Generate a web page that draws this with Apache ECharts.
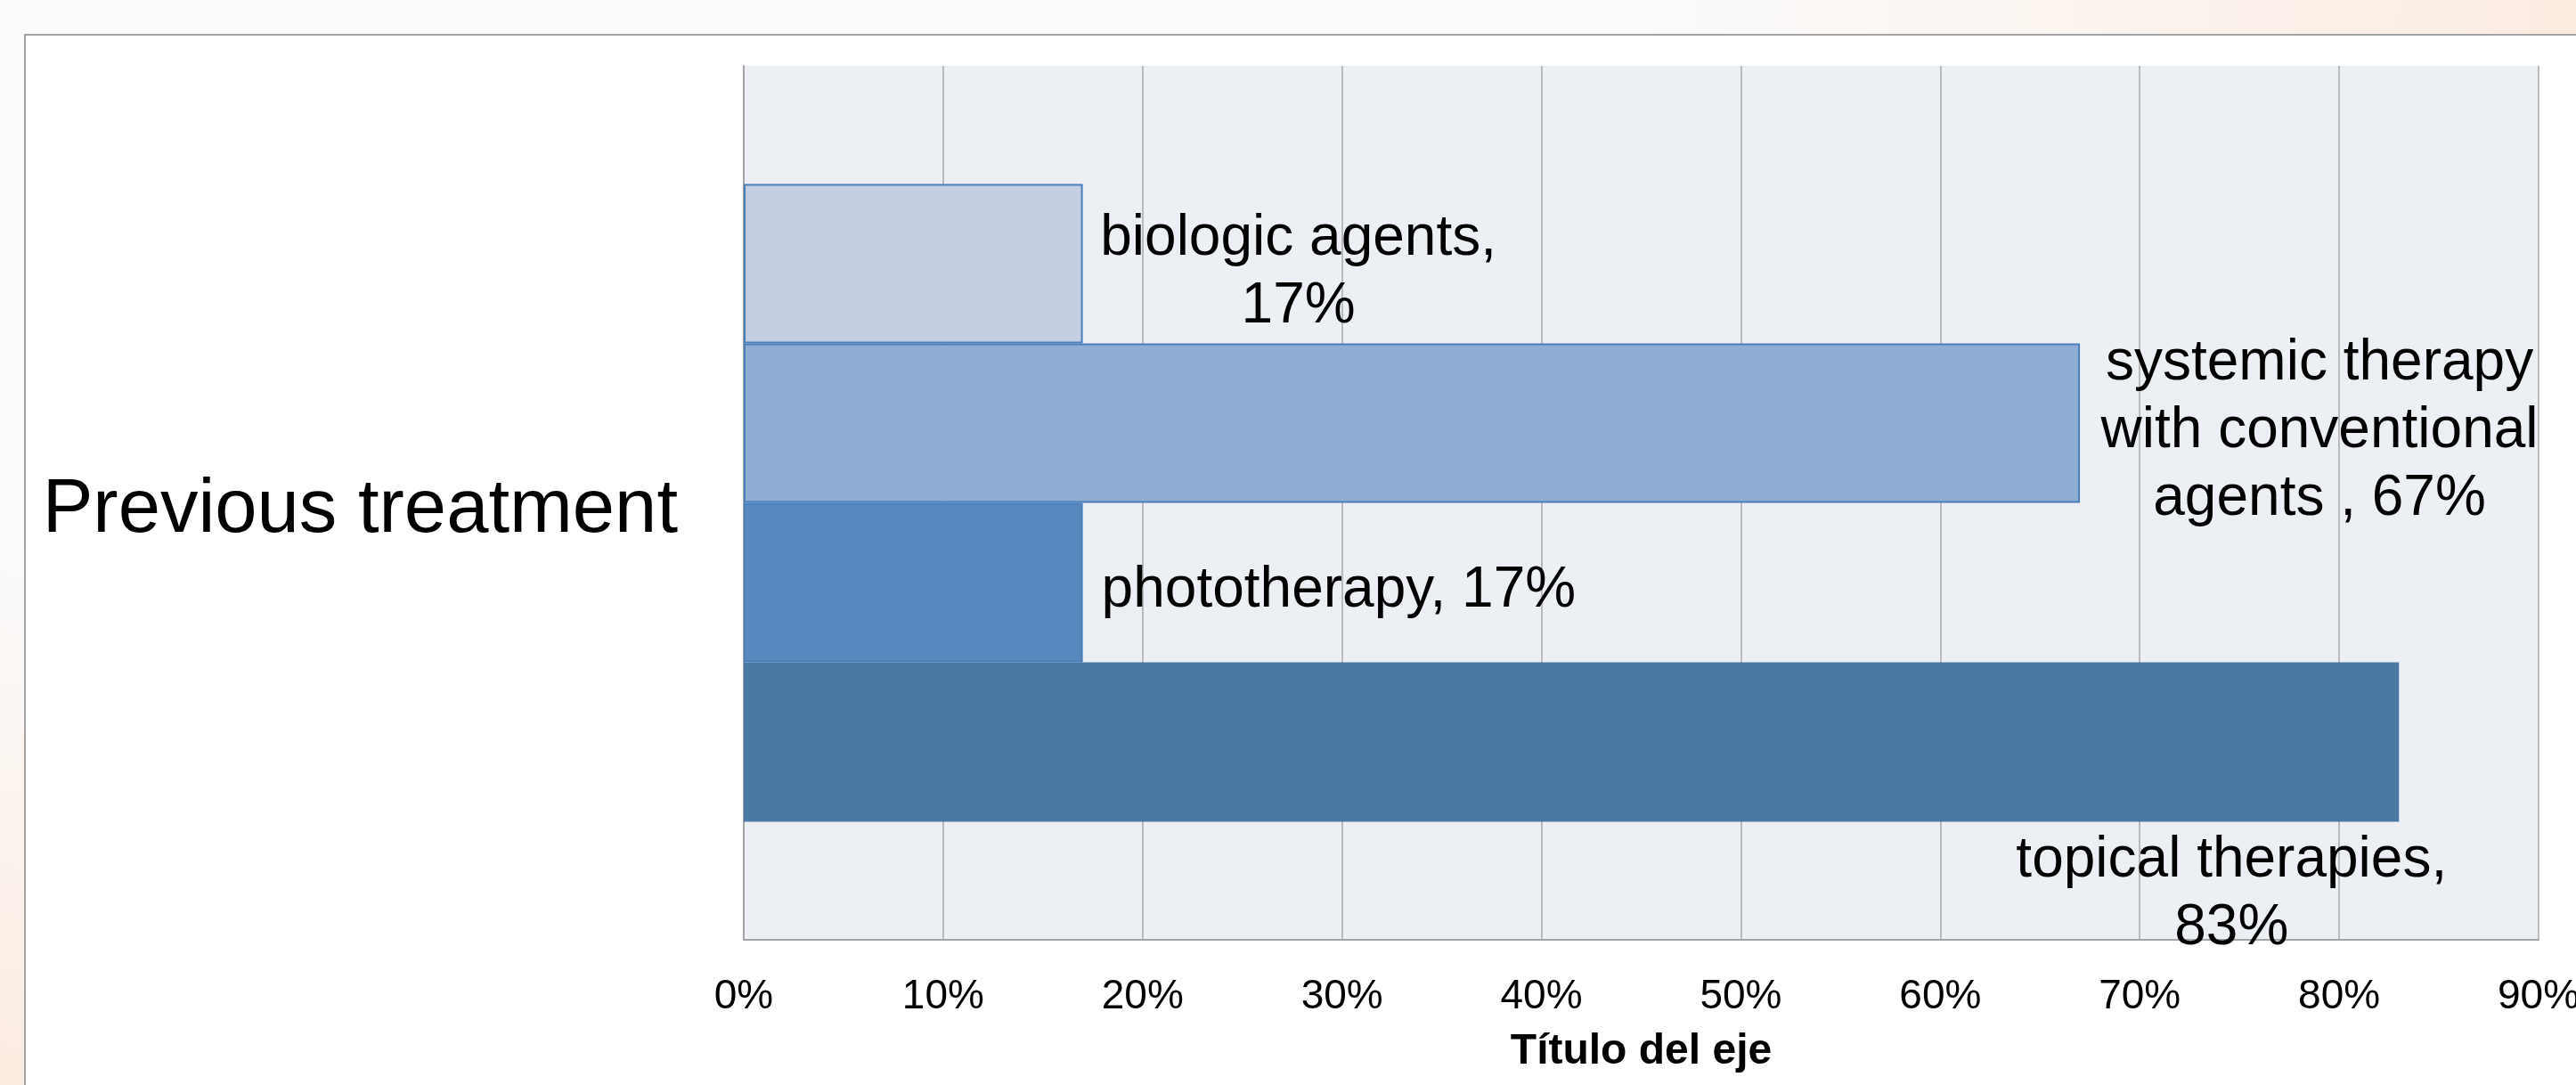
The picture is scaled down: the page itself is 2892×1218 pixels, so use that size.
<!DOCTYPE html>
<html>
<head>
<meta charset="utf-8">
<script src="https://cdn.jsdelivr.net/npm/echarts@6/dist/echarts.min.js"></script>
<style>
  html, body { margin: 0; padding: 0; width: 2892px; height: 1218px; overflow: hidden;
    background: radial-gradient(ellipse 110% 140% at 20% 0%, #fbfbfb 0%, #fbfbfb 40%, #fbede3 70%, #f8e0d0 100%); }
  #panel { position: absolute; left: 27px; top: 38px; width: 2900px; height: 1300px;
    background: #ffffff; border: 2px solid #a3a3a3; box-sizing: border-box; }
  #chart { position: absolute; left: 0; top: 0; width: 2892px; height: 1218px; }
</style>
</head>
<body>
<div id="panel"></div>
<div id="chart"></div>
<script>
// ---- data ----
const categories = ['Previous treatment'];
const seriesNames = ['biologic agents', 'systemic therapy with conventional agents ', 'phototherapy', 'topical therapies'];
const seriesValues = [17, 67, 17, 83];
const axisMin = 0;
const axisMax = 90;
const axisInterval = 10;
const axisTitle = 'Título del eje';

// ---- styles ----
const FONT = '"Liberation Sans", Arial, sans-serif';
const barColors = ['#c3cee2', '#8eadd2', '#5889be', '#4a79a5'];
const barBorders = ['#4a7ebb', '#4a7ebb', '#4a7ebb', '#4a79a5'];
// how each label text is wrapped (display only)
const wrappedNames = ['biologic agents', 'systemic therapy\nwith conventional\nagents ', 'phototherapy', 'topical therapies'];
const labelSeparators = [',\n', ', ', ', ', ',\n'];
const labelLayouts = [
  { position: 'right', distance: 0, align: 'center', offset: [242, 10] },
  { position: 'right', distance: 0, align: 'center', offset: [269, 9] },
  { position: 'right', distance: 21, align: 'left', offset: [0, 9] },
  { position: 'right', distance: 0, align: 'center', offset: [-188, 171] }
];

const chart = echarts.init(document.getElementById('chart'), null, { renderer: 'canvas' });

const series = seriesNames.map((name, i) => ({
  type: 'bar',
  name: name,
  data: [seriesValues[i]],
  barGap: '0%',
  barCategoryGap: '27%',
  itemStyle: { color: barColors[i], borderColor: barBorders[i], borderWidth: 2 },
  label: Object.assign({
    show: true,
    formatter: (p) => wrappedNames[i] + labelSeparators[i] + p.value + '%',
    color: '#000000',
    fontFamily: FONT,
    fontSize: 64,
    lineHeight: 76,
    verticalAlign: 'middle'
  }, labelLayouts[i])
}));

chart.setOption({
  animation: false,
  textStyle: { fontFamily: FONT },
  grid: {
    left: 835, right: 42, top: 74, bottom: 163,
    outerBoundsMode: 'none',
    containLabel: false,
    show: true, backgroundColor: '#eceff4', borderWidth: 0
  },
  xAxis: {
    type: 'value',
    min: axisMin, max: axisMax, interval: axisInterval,
    axisLine: { show: true, lineStyle: { color: '#a3a3a3', width: 2 } },
    axisTick: { show: false },
    splitLine: { show: true, showMinLine: true, showMaxLine: true, lineStyle: { color: '#a8a8a8', width: 1.5 } },
    axisLabel: { formatter: '{value}%', color: '#000000', fontFamily: FONT, fontSize: 46, margin: 41 },
    name: axisTitle,
    nameLocation: 'middle',
    nameGap: 102,
    nameTextStyle: { color: '#000000', fontFamily: FONT, fontSize: 48, fontWeight: 'bold' }
  },
  yAxis: {
    type: 'category',
    data: categories,
    inverse: true,
    axisLine: { show: true, lineStyle: { color: '#a3a3a3', width: 2 } },
    axisTick: { show: false },
    axisLabel: { color: '#000000', fontFamily: FONT, fontSize: 85, margin: 74, verticalAlign: 'top', lineHeight: 18 }
  },
  series: series
});
</script>
</body>
</html>
